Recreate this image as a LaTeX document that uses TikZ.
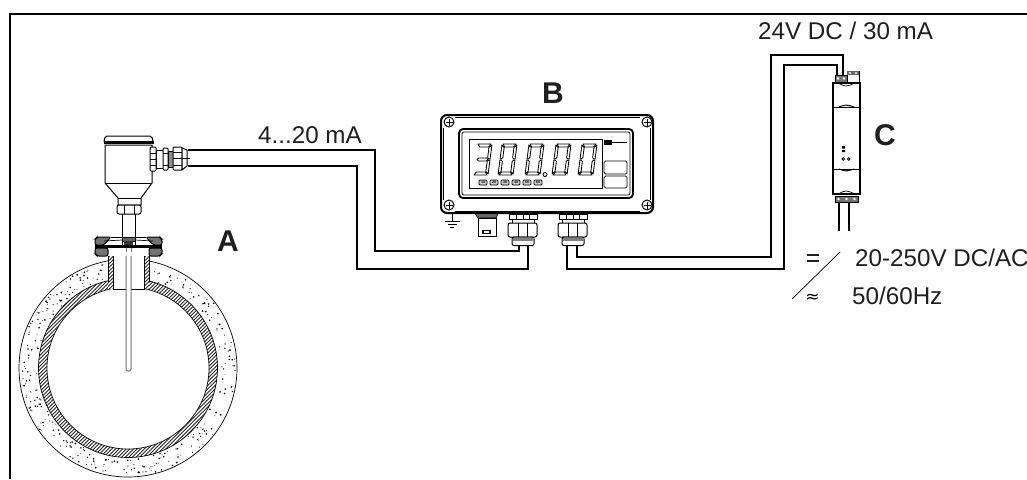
\documentclass[tikz,border=0pt]{standalone}
\usepackage{fontspec}
\setmainfont{Liberation Sans}
\newcommand{\segTop}{\draw[segline] (1,-31)--(14,-31)--(12,-28)--(3,-28)--cycle;}
\newcommand{\segBot}{\draw[segline] (1,0)--(14,0)--(12,-3)--(3,-3)--cycle;}
\newcommand{\segMid}{\draw[segline] (2,-15.5)--(3.5,-17)--(11.5,-17)--(13,-15.5)--(11.5,-14)--(3.5,-14)--cycle;}
\newcommand{\segUL}{\draw[segline] (0,-30)--(2.6,-27.5)--(2.6,-17.3)--(1,-16)--(0,-16)--cycle;}
\newcommand{\segUR}{\draw[segline] (15,-30)--(12.4,-27.5)--(12.4,-17.3)--(14,-16)--(15,-16)--cycle;}
\newcommand{\segLL}{\draw[segline] (0,-1)--(2.6,-3.5)--(2.6,-13.7)--(1,-15)--(0,-15)--cycle;}
\newcommand{\segLR}{\draw[segline] (15,-1)--(12.4,-3.5)--(12.4,-13.7)--(14,-15)--(15,-15)--cycle;}
\newcommand{\hatchlines}[5]{% x0,y0,x1,y1 box, number of lines
  \foreach \hi in {0,...,#5}{
    \pgfmathsetmacro\hx{#1+3.6*\hi}
    \draw[hatchline] (\hx,#2) -- ({\hx-(#4-#2)},#4);
  }}
\tikzset{
  segline/.style={draw=black,line width=0.85pt,fill=white,line join=round},
  frameline/.style={line width=2pt,black},
  thin line/.style={line width=0.7pt,black},
  med line/.style={line width=1pt,black},
  hatchline/.style={line width=0.9pt,black!85},
  wire/.style={line width=1.05pt,black,line join=miter},
  label text/.style={inner sep=0pt,anchor=base west,font=\fontsize{24.2}{28}\selectfont,text=black!88},
  letter text/.style={inner sep=0pt,anchor=base west,font=\fontsize{30}{34}\selectfont\bfseries,text=black!88},
  screw/.style={circle,draw=black,line width=1pt,fill=white,minimum size=10pt,inner sep=0pt},
  scale tag/.style={draw=black,line width=0.9pt,rounded corners=1pt,fill=black!20,inner sep=0pt,minimum width=8pt,minimum height=5pt,font=\fontsize{3.6}{4}\selectfont\bfseries},
}
\begin{document}
\begin{tikzpicture}[x=1pt,y=-1pt]
\useasboundingbox (0,0) rectangle (1027,479);
\fill[white] (0,0) rectangle (1027,479);
% frame
\coordinate (frameTL) at (10,14);
\coordinate (frameTR) at (1027,14);
\coordinate (frameBL) at (10,479);
\draw[frameline] (frameBL) -- (frameTL) -- (frameTR);

% ---------- pipe A
\draw[thin line,fill=white] (128,368) circle (109);
\pgfmathsetseed{4217}
\foreach \i in {1,...,340}{
  \pgfmathsetmacro\ang{rnd*360}
  \pgfmathsetmacro\rad{91+rnd*16.5}
  \pgfmathsetmacro\dotr{0.4+rnd*0.55}
  \fill[black] ({128+\rad*cos(\ang)},{368+\rad*sin(\ang)}) circle (\dotr);
}
\fill[white] (128,368) circle (89.5);
\begin{scope}
  \clip (128,368) circle (89.5);
  \hatchlines{38}{278}{219}{458}{101}
\end{scope}
\draw[thin line,fill=white] (128,368) circle (81);
\draw[thin line] (128,368) circle (89.5);
% nozzle
\fill[white] (108,247) rectangle (149,289);
\begin{scope}
  \clip (108,247) rectangle (113,289);
  \hatchlines{108}{247}{113}{289}{14}
\end{scope}
\begin{scope}
  \clip (144,247) rectangle (149,289);
  \hatchlines{144}{247}{149}{289}{14}
\end{scope}
\draw[thin line] (108,247) -- (108,282) (113,247) -- (113,289) -- (144,289) -- (144,247) (149,247) -- (149,282);
% probe
\draw[line width=1pt,black!55,fill=white,rounded corners=2pt] (126,247) -- (126,371) -- (131,371) -- (131,247);
% flange
\fill[white] (95,237) rectangle (162,256);
\draw[med line,fill=black!55,rounded corners=2pt] (95,245) -- (95,239) -- (97,237) -- (111,237) -- (104,245) -- cycle;
\draw[med line,fill=black!55,rounded corners=2pt] (162,245) -- (162,239) -- (160,237) -- (146,237) -- (153,245) -- cycle;
\draw[med line,fill=black!55,rounded corners=2pt] (95,248) -- (95,254) -- (97,256) -- (108,256) -- (108,248) -- cycle;
\draw[med line,fill=black!55,rounded corners=2pt] (162,248) -- (162,254) -- (160,256) -- (149,256) -- (149,248) -- cycle;
\draw[thin line] (111,237) -- (146,237);
\draw[thin line] (104,241) -- (122,240) (135,240) -- (153,241);
\fill[black] (95,245) rectangle (162,248);
\draw[thin line,fill=black!60] (122,237) rectangle (135,241);
\draw[thin line,fill=white] (122,241) rectangle (135,245);
\fill[black!80] (124,241) rectangle (133,245);
\draw[line width=1pt,black!55] (126,248) -- (126,252) (131,248) -- (131,252);

% ---------- transmitter
\draw[thin line] (122,214) -- (122,237) (135,214) -- (135,237);
\draw[med line,fill=white] (105,145) -- (105,183) -- (118,198) -- (118,205) -- (141,205) -- (141,198) -- (152,183) -- (152,145) -- cycle;
\draw[thin line] (105,183) -- (152,183);
\draw[thin line] (118,198) -- (141,198);
\draw[med line,fill=white,rounded corners=2pt] (117,205) rectangle (141,214);
\draw[thin line] (124,205) -- (124,214) (134,205) -- (134,214);
\draw[med line,rounded corners=2pt,fill=white] (104,142) -- (105,136) -- (152,136) -- (153,142);
\draw[line width=3pt,black] (103.5,142) -- (153.5,142);
% transmitter gland
\draw[thin line,fill=white] (156,150) rectangle (163,168);
\fill[black!45] (168,151) rectangle (173,167);
\draw[thin line] (168,151) rectangle (173,167);
\draw[med line,fill=white,rounded corners=1pt] (150,147) rectangle (156,171);
\draw[thin line] (150,153) -- (156,153) (150,165) -- (156,165) (150,159) -- (156,159);
\draw[med line,fill=white,rounded corners=1pt] (163,148) rectangle (168,170);
\draw[thin line] (163,153) -- (168,153) (163,165) -- (168,165);
\draw[med line,fill=white,rounded corners=1pt] (173,147) rectangle (182,170);
\draw[thin line] (173,152) -- (182,152) (173,165) -- (182,165) (173,158) -- (182,158);
\draw[med line,fill=white] (182,148) -- (187,150) -- (187,166) -- (182,170) -- cycle;
\draw[thin line] (182,158) -- (190,158);

% ---------- cables
\coordinate (txUp) at (188,150);
\coordinate (txLo) at (188,166);
\coordinate (gl1a) at (519,245);
\coordinate (gl1b) at (528,245);
\coordinate (gl2a) at (567,245);
\coordinate (gl2b) at (577,245);
\coordinate (cTopA) at (843,75);
\coordinate (cTopB) at (837,75);
\draw[wire] (txUp) -- (375,150) -- (375,251) -- (519,251) -- (gl1a);
\draw[wire] (txLo) -- (357,166) -- (357,269) -- (528,269) -- (gl1b);
\draw[wire] (gl2b) -- (577,257) -- (771,257) -- (771,55) -- (843,55) -- (cTopA);
\draw[wire] (gl2a) -- (567,269) -- (784,269) -- (784,65) -- (837,65) -- (cTopB);

% ---------- display B
\draw[line width=2pt,rounded corners=6pt,fill=white] (441,115) rectangle (653,213);
\draw[thin line] (455,117.5) -- (640,117.5);
\draw[thin line] (443.5,128) -- (443.5,200) (650.5,128) -- (650.5,200);
\draw[thin line] (455,211) -- (640,211);
\draw[line width=1.8pt,rounded corners=4pt] (459,129) rectangle (633,198);
\draw[thin line,rounded corners=2pt] (462,132) rectangle (630,195);
\draw[thin line] (469,139) rectangle (602,188);
\foreach \n/\sx/\sy in {tl/449/122,tr/647/122,bl/449/205,br/647/205}{
  \node[screw] (screw\n) at (\sx,\sy) {};
  \draw[med line] (\sx-3.5,\sy) -- (\sx+3.5,\sy) (\sx,\sy-3.5) -- (\sx,\sy+3.5);
}
% digits
\begin{scope}[shift={(473,175)},xslant=0.13]\segTop\segMid\segBot\segUR\segLR\end{scope}
\foreach \dx in {498,525,552,578}{
  \begin{scope}[shift={(\dx,175)},xslant=0.13]\segTop\segBot\segUL\segUR\segLL\segLR\end{scope}
}
\fill[segline] (545,174.5) circle (2);
\foreach \t/\tx in {10/483,20/494,30/505,40/516,50/527,60/538}{
  \node[scale tag] (tag\t) at (\tx,182.5) {\t};
}
% buttons and logo
\draw[thin line,rounded corners=1.5pt] (604,161) rectangle (627,174);
\draw[thin line,rounded corners=1.5pt] (604,176) rectangle (627,188);
\fill[black] (604,140) rectangle (612,145);
\draw[med line] (612,142.5) -- (627,142.5);

% ground
\coordinate (gndTop) at (452,213);
\coordinate (gndBot) at (452,221);
\draw[thin line] (gndTop) -- (gndBot);
\draw[thin line] (444.5,221) -- (459.5,221) (447.5,224) -- (456.5,224);
\draw[thin line] (450,227) -- (454,227);
% plug
\draw[thin line,fill=black!60] (475,213.5) -- (498,213.5) -- (496,218) -- (478,218) -- cycle;
\draw[med line,fill=white] (478,218) rectangle (496,236);
\fill[black] (482,230) rectangle (491,234);
\fill[white] (484,231.3) rectangle (489,232.7);

% cable glands under B
\foreach \gx in {0,50}{
  \begin{scope}[xshift=\gx pt]
    \draw[thin line] (512,219) -- (512,223) (534,219) -- (534,223);
    \draw[med line,fill=white] (509,214) rectangle (537,219.5);
    \draw[thin line] (516,214) -- (516,219.5) (523,214) -- (523,219.5) (529,214) -- (529,219.5);
    \draw[med line,fill=white,rounded corners=2pt] (508,223) rectangle (537,237);
    \draw[thin line] (518,223) -- (518,237) (527,223) -- (527,237);
    \draw[med line,fill=white,rounded corners=2pt] (512,237) -- (512,245.5) -- (534,245.5) -- (534,237) -- cycle;
    \fill[black!50] (512.5,237.5) rectangle (533.5,240.5);
  \end{scope}
}

% ---------- supply C
\draw[line width=1.4pt,fill=white] (833,83) rectangle (860,194);
\draw[med line] (833,107) -- (860,107) (833,169) -- (860,169);
\draw[med line] (839,107) .. controls (846,104.5) .. (854,107);
\draw[med line] (839,169) .. controls (846,171.5) .. (854,169);
\draw[thin line] (838,83) .. controls (846,87) .. (855,83);
\draw[thin line] (838,194) .. controls (846,190) .. (855,194);
\fill[black] (842,146) rectangle (845,148.5) (842,150) rectangle (845,152);
\draw[line width=0.8pt] (843.3,159) circle (1.3) (848.7,159) circle (1.3);
% terminals
\draw[thin line,fill=black!55] (835,75) rectangle (847,82);
\foreach \cx in {838,844}{\fill[white] (\cx,78.5) circle (1.3);}
\draw[thin line,fill=white] (847,71) rectangle (859,82);
\fill[black!60] (847,71) rectangle (859,75);
\foreach \cx in {850,856}{\fill[white] (\cx,73) circle (1.2);}
\draw[thin line,fill=black!55] (835,196) rectangle (858,202);
\foreach \cx in {838.5,846.5,854.5}{\fill[white] (\cx,199) circle (1.3);}
\coordinate (cBotA) at (839,202);
\coordinate (cBotB) at (849,202);
\coordinate (cBotAend) at (839,231);
\coordinate (cBotBend) at (849,231);
\draw[wire] (cBotA) -- (cBotAend);
\draw[wire] (cBotB) -- (cBotBend);

% ---------- supply symbol
\coordinate (slashA) at (840,252);
\coordinate (slashB) at (792,299);
\draw[thin line] (slashA) -- (slashB);
\draw[line width=2pt,black!88] (807,254.5) -- (819,254.5) (807,260.5) -- (819,260.5);
\node[inner sep=0pt] (approx) at (812.5,298) {\fontspec{DejaVu Sans}\fontsize{17}{18}\selectfont ≈};

% ---------- texts
\node[label text] (lblLoop) at (258,143.5) {4...20 mA};
\node[label text] (lblAux) at (758,39) {24V DC / 30 mA};
\node[label text] (lblSupply) at (855,266) {20-250V DC/AC};
\node[label text] (lblFreq) at (852,304) {50/60Hz};
\node[letter text] (lblA) at (217,251) {A};
\node[letter text] (lblB) at (542,103) {B};
\node[letter text] (lblC) at (874,145) {C};
\end{tikzpicture}
\end{document}
